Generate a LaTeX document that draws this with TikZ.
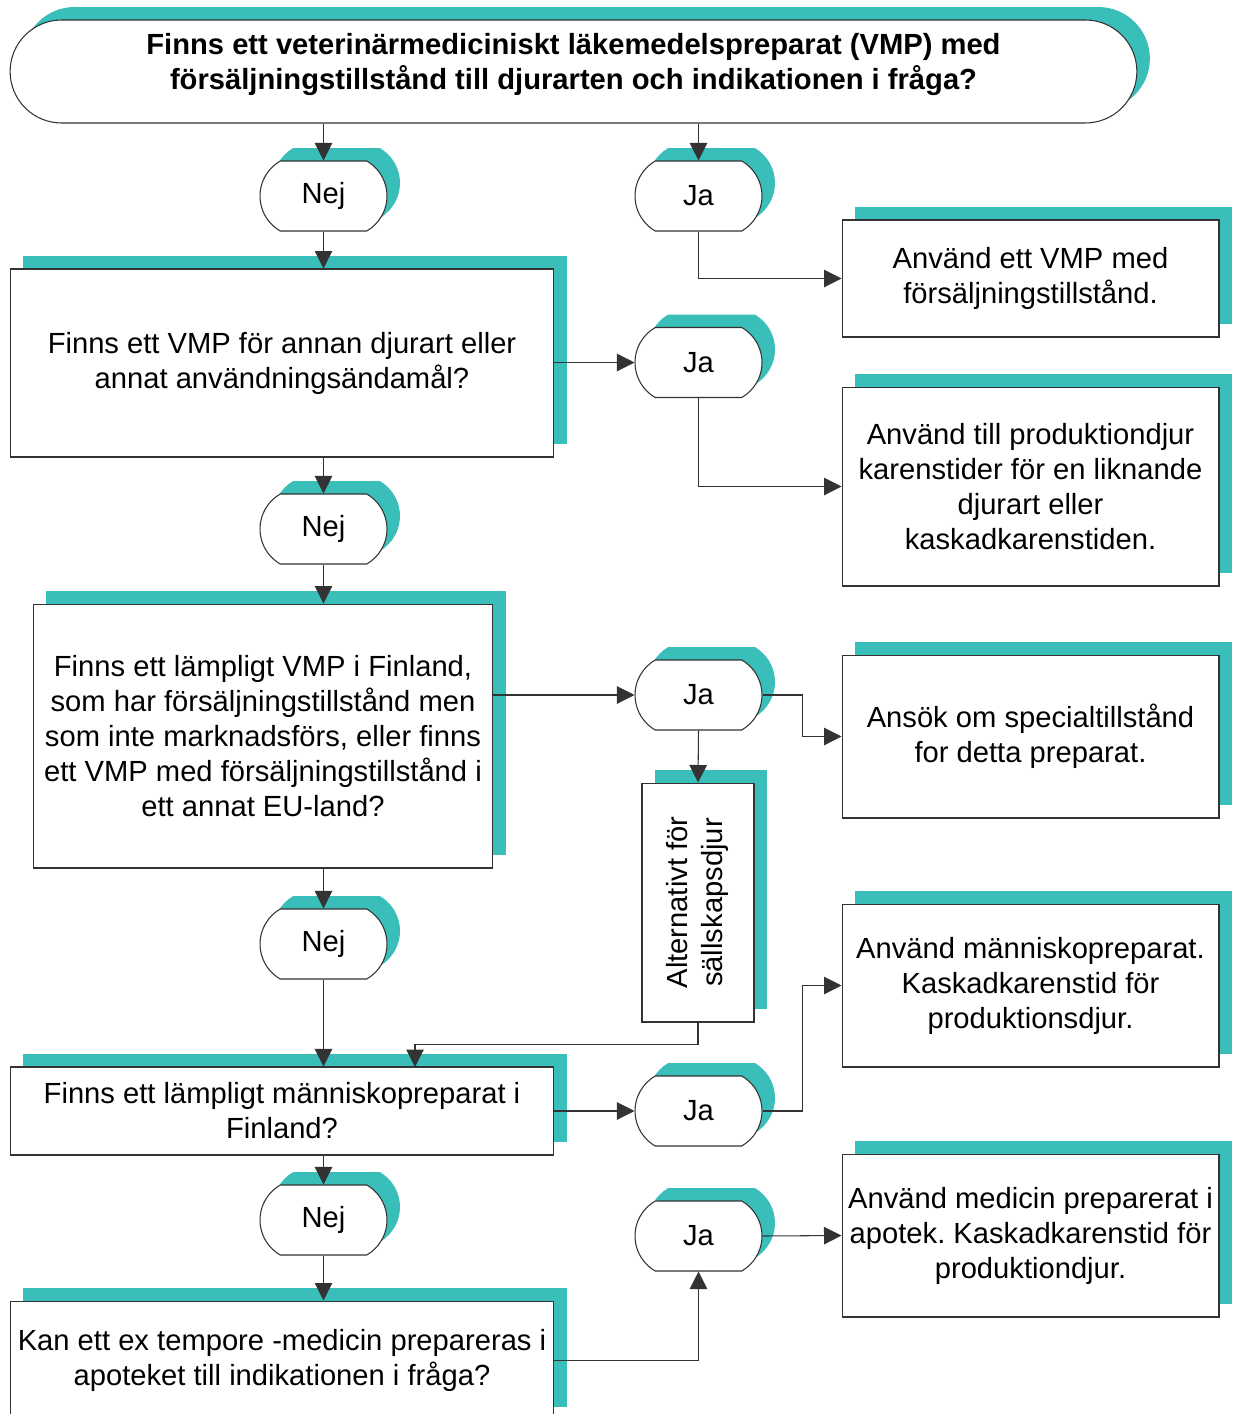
\documentclass[tikz,border=0pt]{standalone}
\usepackage{fontspec}
\setmainfont{Liberation Sans}
\frenchspacing
\usetikzlibrary{shapes.misc, shadows, arrows.meta}
\definecolor{shadowteal}{RGB}{58,190,186}
\colorlet{box edge}{black!80}
\tikzset{
  shadowed/.style={drop shadow={shadow xshift=0.26cm, shadow yshift=0.26cm, opacity=1, fill=shadowteal}},
  question/.style={rectangle, draw=box edge, fill=white, line width=0.6pt, align=center, inner sep=0pt, shadowed},
  answer/.style={rounded rectangle, rounded rectangle arc length=120, draw=box edge, fill=white, line width=0.6pt,
    minimum width=2.54cm, minimum height=1.4cm, inner sep=0pt, shadowed},
  outcome/.style={question, minimum width=7.54cm},
  flow/.style={draw=box edge, line width=0.6pt, -{Triangle[length=0.35cm, width=0.35cm]}}
}

\begin{document}
\begin{tikzpicture}[x=0.02cm, y=-0.02cm, font=\fontsize{16.6}{19.9}\selectfont]
    \useasboundingbox (0,0) rectangle (1232,1414);
    \clip (0,0) rectangle (1232,1414);

    % start
    \node[rounded rectangle, rounded rectangle arc length=180, draw=box edge, fill=white, line width=0.6pt,
      minimum width=22.54cm, minimum height=2.06cm, inner sep=0pt, text depth=0.42cm, align=center, shadowed,
      font=\fontsize{16.6}{19.9}\selectfont\bfseries] (title) at (573.5,71.5)
      {Finns ett veterinärmediciniskt läkemedelspreparat (VMP) med\\försäljningstillstånd till djurarten och indikationen i fråga?};

    % left column: questions and Nej
    \node[answer] (nej1) at (323.5,196) {Nej};
    \node[question, minimum width=10.88cm, minimum height=3.76cm] (qother) at (282,363)
      {Finns ett VMP för annan djurart eller\\annat användningsändamål?};
    \node[answer] (nej2) at (323.5,529) {Nej};
    \node[question, minimum width=9.2cm, minimum height=5.28cm] (qeu) at (263,736)
      {Finns ett lämpligt VMP i Finland,\\som har försäljningstillstånd men\\som inte marknadsförs, eller finns\\ett VMP med försäljningstillstånd i\\ett annat EU-land?};
    \node[answer] (nej3) at (323.5,944) {Nej};
    \node[question, minimum width=10.88cm, minimum height=1.76cm] (qhuman) at (282,1111)
      {Finns ett lämpligt människopreparat i\\Finland?};
    \node[answer] (nej4) at (323.5,1220) {Nej};
    \node[question, minimum width=10.88cm, minimum height=2.38cm] (qextemp) at (282,1360.5)
      {Kan ett ex tempore -medicin prepareras i\\apoteket till indikationen i fråga?};

    % middle column: Ja
    \node[answer] (ja1) at (698.5,196) {Ja};
    \node[answer] (ja2) at (698.5,362.5) {Ja};
    \node[answer] (ja3) at (698.5,695) {Ja};
    \node[question, minimum width=2.24cm, minimum height=4.78cm] (alt) at (698,902.5)
      {\rotatebox{90}{\begin{tabular}{@{}c@{}}Alternativt för\\sällskapsdjur\end{tabular}}};
    \node[answer] (ja4) at (698.5,1111) {Ja};
    \node[answer] (ja5) at (698.5,1236) {Ja};

    % right column: outcomes
    \node[outcome, minimum height=2.34cm] (rvmp) at (1030.5,278.5)
      {Använd ett VMP med\\försäljningstillstånd.};
    \node[outcome, minimum height=3.98cm] (rkaren) at (1030.5,486.5)
      {Använd till produktiondjur\\karenstider för en liknande\\djurart eller\\kaskadkarenstiden.};
    \node[outcome, minimum height=3.26cm] (rspecial) at (1030.5,736.5)
      {Ansök om specialtillstånd\\for detta preparat.};
    \node[outcome, minimum height=3.26cm] (rhuman) at (1030.5,985.5)
      {Använd människopreparat.\\Kaskadkarenstid för\\produktionsdjur.};
    \node[outcome, minimum height=3.26cm] (rapotek) at (1030.5,1235.5)
      {Använd medicin preparerat i\\apotek. Kaskadkarenstid för\\produktiondjur.};

    \coordinate (cjoin) at (415,1067);

    % connectors
    \draw[flow] (title.south -| nej1.north) -- (nej1.north);
    \draw[flow] (title.south -| ja1.north) -- (ja1.north);
    \draw[flow] (nej1.south) -- (nej1.south |- qother.north);
    \draw[flow] (ja1.south) |- (rvmp.west);
    \draw[flow] (qother.east |- ja2.west) -- (ja2.west);
    \draw[flow] (ja2.south) |- (rkaren.west);
    \draw[flow] (qother.south -| nej2.north) -- (nej2.north);
    \draw[flow] (nej2.south) -- (nej2.south |- qeu.north);
    \draw[flow] (qeu.east |- ja3.west) -- (ja3.west);
    \draw[flow] (ja3.east) -- ++(40,0) |- (rspecial.west);
    \draw[flow] (ja3.south) -- (alt.north);
    \draw[flow] (qeu.south -| nej3.north) -- (nej3.north);
    \draw[flow] (nej3.south) -- (nej3.south |- qhuman.north);
    \draw[flow] (alt.south) -- ++(0,22) -| (cjoin);
    \draw[flow] (qhuman.east |- ja4.west) -- (ja4.west);
    \draw[flow] (ja4.east) -- ++(40,0) |- (rhuman.west);
    \draw[flow] (qhuman.south -| nej4.north) -- (nej4.north);
    \draw[flow] (nej4.south) -- (nej4.south |- qextemp.north);
    \draw[flow] (qextemp.east) -| (ja5.south);
    \draw[flow] (ja5.east) -- (rapotek.west);
\end{tikzpicture}
\end{document}
